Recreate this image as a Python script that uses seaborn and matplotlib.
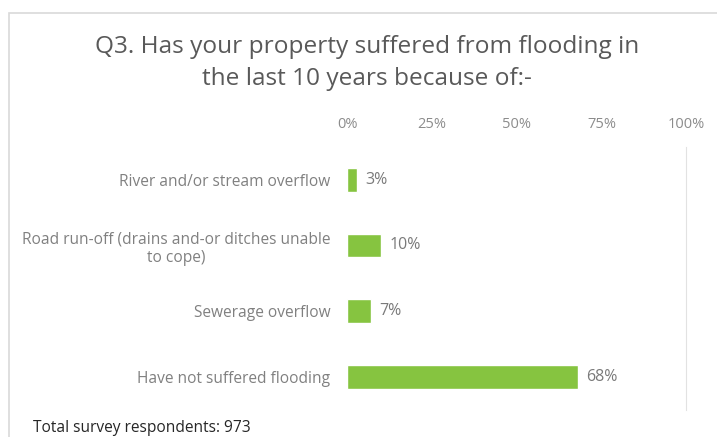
import matplotlib
matplotlib.use("Agg")
import matplotlib.pyplot as plt
import seaborn as sns
import pandas as pd
from matplotlib.patches import Rectangle

# data
categories = [
    "River and/or stream overflow",
    "Road run-off (drains and-or ditches unable\nto cope)",
    "Sewerage overflow",
    "Have not suffered flooding",
]
percent = [3, 10, 7, 68]
tick_values = [0, 25, 50, 75, 100]
tick_labels = ["0%", "25%", "50%", "75%", "100%"]

df = pd.DataFrame({"cause": categories, "pct": percent})

sns.set_theme(style="white")
plt.rcParams["font.family"] = ["Open Sans", "DejaVu Sans"]

fig = plt.figure(figsize=(7.17, 4.37), dpi=100)
ax = fig.add_axes([0.484, 0.062, 0.473, 0.602])

sns.barplot(data=df, x="pct", y="cause", orient="h", color="#86c440",
            width=0.36, ax=ax, saturation=1)

ax.set_xlim(0, 100)
ax.set_ylim(3.5, -0.5)
ax.xaxis.tick_top()
ax.set_xticks(tick_values)
ax.set_xticklabels(tick_labels, fontsize=10.5, color="#8c8c8c")
ax.tick_params(axis="x", length=0, pad=11)
ax.tick_params(axis="y", length=0, pad=12)
for lab in ax.get_yticklabels():
    lab.set_fontsize(11.2)
    lab.set_color("#808080")
    lab.set_multialignment("center")
ax.set_xlabel("")
ax.set_ylabel("")

for s in ["top", "left", "bottom"]:
    ax.spines[s].set_visible(False)
ax.spines["right"].set_color("#e2e2e2")
ax.spines["right"].set_linewidth(0.8)

for i, v in enumerate(percent):
    ax.text(v + 2.5, i, f"{v}%", va="center", ha="left", fontsize=11.5, color="#7a7a7a")

# chart frame
fig.patches.append(Rectangle((0.0125, -0.05), 1.05, 1.02, transform=fig.transFigure,
                             fill=False, edgecolor="#d9d9d9", linewidth=1.2))

fig.text(0.512, 0.856, "Q3. Has your property suffered from flooding in\nthe last 10 years because of:-",
         ha="center", va="center", fontsize=17.6, color="#595959", linespacing=1.4)
fig.text(0.046, 0.02, "Total survey respondents: 973", ha="left", va="center",
         fontsize=11.2, color="#262626")

fig.savefig("out.png", dpi=100)
